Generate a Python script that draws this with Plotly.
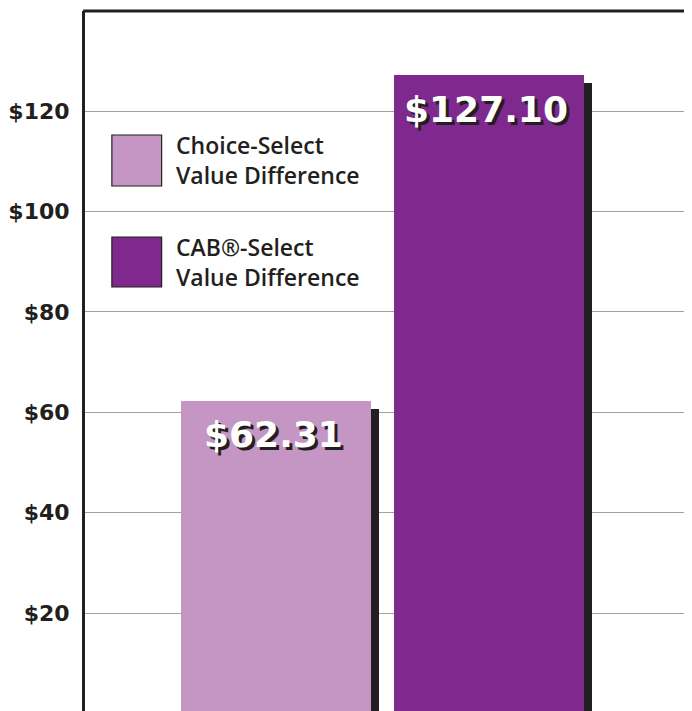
import plotly.graph_objects as go

# ---- data ----
series_names = ["Choice-Select<br>Value Difference", "CAB®-Select<br>Value Difference"]
categories = ["Choice-Select", "CAB-Select"]
values = [62.31, 127.10]
value_labels = ["$62.31", "$127.10"]
tick_values = [20, 40, 60, 80, 100, 120]
tick_labels = ["$20", "$40", "$60", "$80", "$100", "$120"]

bar_colors = ["#c596c3", "#7f298e"]
dark = "#231f20"

# page body has an 8px margin; compensate so the plot lands where the reference has it
BODY = 8
W, H = 692, 711
SCR_LEFT, SCR_TOP = 82, 11          # screen position of plot area top-left
ML, MT, MR, MB = SCR_LEFT - BODY, SCR_TOP - BODY, 0, 0
plot_w = W - ML - MR
plot_h = H - MT - MB
SCR_BOTTOM = BODY + H - MB
px_per_unit = 5.02
zero_scr = 713.4
y_range = [(zero_scr - SCR_BOTTOM) / px_per_unit, (zero_scr - SCR_TOP) / px_per_unit]

cat_step_px = 214.0
bar_w = 191.0 / cat_step_px
shadow_w = 8.0 / cat_step_px
shadow_drop = 8.0 / px_per_unit
x_left = -(273.5 - SCR_LEFT) / cat_step_px
x_range = [x_left, x_left + plot_w / cat_step_px]

fig = go.Figure()

# shadows
fig.add_trace(go.Bar(
    x=list(range(len(categories))),
    y=[v - shadow_drop for v in values],
    width=shadow_w,
    offset=bar_w / 2,
    marker=dict(color=dark, line=dict(width=0)),
    showlegend=False, hoverinfo="skip",
))
# main bars
fig.add_trace(go.Bar(
    x=list(range(len(categories))),
    y=values,
    width=bar_w,
    marker=dict(color=bar_colors, line=dict(width=0)),
    showlegend=False,
    hovertext=categories,
))

annotations = []
for i, (v, lab) in enumerate(zip(values, value_labels)):
    for color, dx, dy in [(dark, 3, -3), ("white", 0, 0)]:
        annotations.append(dict(
            x=i - 0.012, y=v, xref="x", yref="y", text=lab,
            showarrow=False, xanchor="center", yanchor="middle",
            xshift=dx, yshift=-34 + dy,
            font=dict(family="DejaVu Sans", size=36, color=color, weight="bold"),
        ))


def px_x(p):
    return (p - SCR_LEFT) / plot_w


def px_y(p):
    return (SCR_BOTTOM - p) / plot_h


# custom legend (boxes + labels)
shapes = []
legend_boxes = [(135, 186), (237, 287)]
for (top, bot), col, name in zip(legend_boxes, bar_colors, series_names):
    shapes.append(dict(type="rect", xref="paper", yref="paper",
                       x0=px_x(109), x1=px_x(159), y0=px_y(bot), y1=px_y(top),
                       fillcolor=col, line=dict(color=dark, width=1.2), layer="above"))
    annotations.append(dict(
        x=px_x(171), y=px_y((top + bot) / 2), xref="paper", yref="paper",
        text=name, showarrow=False, xanchor="left", yanchor="middle", align="left",
        font=dict(family="Open Sans", size=23, color=dark, weight=600),
    ))

# top frame line
shapes.append(dict(type="line", xref="paper", yref="paper", x0=-0.003, x1=1, y0=1, y1=1,
                   line=dict(color=dark, width=3), layer="above"))

fig.update_layout(
    width=W, height=H,
    margin=dict(l=ML, r=MR, t=MT, b=MB, pad=0),
    paper_bgcolor="white", plot_bgcolor="white",
    bargap=0, barmode="overlay",
    showlegend=False,
    annotations=annotations,
    shapes=shapes,
    xaxis=dict(range=x_range, showgrid=False, zeroline=False, showticklabels=False,
               showline=False, fixedrange=True),
    yaxis=dict(range=y_range, tickvals=tick_values, ticktext=tick_labels,
               showgrid=True, gridcolor="#a0a0a0", gridwidth=1.2, zeroline=False,
               showline=True, linecolor=dark, linewidth=3,
               ticks="", ticklabelstandoff=8,
               tickfont=dict(family="DejaVu Sans", size=22, color=dark, weight="bold"),
               fixedrange=True),
)

fig.write_html("out.html")
